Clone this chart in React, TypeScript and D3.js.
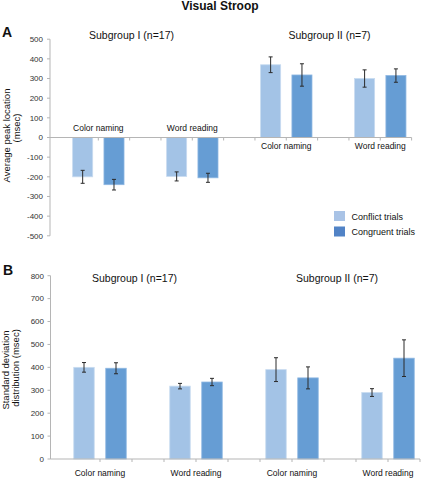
import React from "react";
import * as d3 from "d3";

const categories = ["Color naming", "Word reading", "Color naming", "Word reading"];
const groups = ["Subgroup I (n=17)", "Subgroup II (n=7)"];
const seriesNames = ["Conflict trials", "Congruent trials"];

const conflictA = [-200, -198, 370, 300];
const conflictAErr = [33, 23, 40, 44];
const congruentA = [-240, -205, 318, 315];
const congruentAErr = [27, 23, 57, 34];

const conflictB = [400, 318, 390, 290];
const conflictBErr = [21, 12, 52, 17];
const congruentB = [396, 336, 354, 440];
const congruentBErr = [24, 16, 48, 80];

const ticksA = [500, 400, 300, 200, 100, 0, -100, -200, -300, -400, -500];
const ticksB = [800, 700, 600, 500, 400, 300, 200, 100, 0];

const LIGHT = "#A3C3E6";
const DARK = "#669DD4";
const LEG_LIGHT = "#A9C3E6";
const LEG_DARK = "#5183C6";
const AXIS = "#B5B5B5";
const FONT = "'Liberation Sans', Arial, sans-serif";

type PanelProps = {
  conflict: number[];
  conflictErr: number[];
  congruent: number[];
  congruentErr: number[];
  yDomain: [number, number];
  yRange: [number, number];
  xRange: [number, number];
  axisX: number;
  ticks: number[];
  tickAnchor: number;
  tickFont: number;
};

function Panel(p: PanelProps) {
  const slots = d3.range(11);
  const x = d3.scaleBand<number>().domain(slots).range(p.xRange);
  const bw = x.bandwidth();
  const y = d3.scaleLinear().domain(p.yDomain).range(p.yRange);
  const y0 = y(0);
  const barW = bw * 0.64;
  const series = [
    { vals: p.conflict, errs: p.conflictErr, fill: LIGHT, stroke: "#C8DBF0" },
    { vals: p.congruent, errs: p.congruentErr, fill: DARK, stroke: "#8EB7E2" },
  ];
  const boundaries = d3.range(1, 12).map((k) => (x(0) as number) + k * bw);
  return (
    <g>
      {/* y axis */}
      <line x1={p.axisX} x2={p.axisX} y1={y(p.yDomain[1])} y2={y(p.yDomain[0])} stroke={AXIS} strokeWidth={1} />
      {p.ticks.map((t) => (
        <g key={t}>
          <line x1={p.axisX - 3} x2={p.axisX} y1={y(t)} y2={y(t)} stroke={AXIS} />
          <text x={p.tickAnchor} y={y(t) + p.tickFont * 0.35} textAnchor="end" fontSize={p.tickFont} fill="#333" fontFamily={FONT}>
            {t}
          </text>
        </g>
      ))}
      {/* bars */}
      {series.map((s, si) =>
        s.vals.map((v, i) => {
          const slot = 3 * i + si;
          const bx = (x(slot) as number) + (bw - barW) / 2;
          const top = Math.min(y(v), y0);
          const h = Math.abs(y(v) - y0);
          const cx = bx + barW / 2;
          const e = s.errs[i];
          return (
            <g key={`${si}-${i}`}>
              <rect x={bx} y={top} width={barW} height={h} fill={s.fill} stroke={s.stroke} strokeWidth={0.8} />
              <line x1={cx} x2={cx} y1={y(v + e)} y2={y(v - e)} stroke="#2a2a2a" strokeWidth={1} />
              <line x1={cx - 2} x2={cx + 2} y1={y(v + e)} y2={y(v + e)} stroke="#2a2a2a" strokeWidth={1} />
              <line x1={cx - 2} x2={cx + 2} y1={y(v - e)} y2={y(v - e)} stroke="#2a2a2a" strokeWidth={1} />
            </g>
          );
        })
      )}
      {/* zero / category axis */}
      <line x1={p.axisX} x2={p.xRange[1]} y1={y0} y2={y0} stroke={AXIS} strokeWidth={1} />
      {boundaries.map((b, k) => (
        <line key={k} x1={b} x2={b} y1={y0} y2={y0 + 3} stroke={AXIS} />
      ))}
    </g>
  );
}

export default function App() {
  const slots = d3.range(11);
  const xA = d3.scaleBand<number>().domain(slots).range([67, 411.6]);
  const xB = d3.scaleBand<number>().domain(slots).range([68, 420]);
  const pairCenter = (sc: d3.ScaleBand<number>, i: number) => (sc(3 * i) as number) + sc.bandwidth();
  return (
    <svg
      width={421}
      height={479}
      style={{ position: "absolute", left: 0, top: 0, background: "#fff" }}
      fontFamily={FONT}
    >
      <rect x={0} y={0} width={421} height={479} fill="#fff" />
      <text x={220} y={10} textAnchor="middle" fontSize={12} fontWeight="bold" fill="#111">
        Visual Stroop
      </text>

      {/* Panel A */}
      <text x={2} y={37} fontSize={14} fontWeight="bold" fill="#111">A</text>
      <text x={131.5} y={38.5} textAnchor="middle" fontSize={10.5} fill="#111">{groups[0]}</text>
      <text x={329.5} y={38.5} textAnchor="middle" fontSize={10.5} fill="#111">{groups[1]}</text>
      <text transform="translate(10,135.5) rotate(-90)" textAnchor="middle" fontSize={9.5} fill="#111">
        Average peak location
      </text>
      <text transform="translate(20,128) rotate(-90)" textAnchor="middle" fontSize={9.5} fill="#111">
        (msec)
      </text>
      <Panel
        conflict={conflictA}
        conflictErr={conflictAErr}
        congruent={congruentA}
        congruentErr={congruentAErr}
        yDomain={[-500, 500]}
        yRange={[235.8, 39.2]}
        xRange={[67, 411.6]}
        axisX={50}
        ticks={ticksA}
        tickAnchor={43}
        tickFont={8}
      />
      {categories.map((c, i) => (
        <text
          key={i}
          x={pairCenter(xA, i)}
          y={i < 2 ? 131 : 149}
          textAnchor="middle"
          fontSize={8.5}
          fill="#111"
        >
          {c}
        </text>
      ))}
      {/* legend */}
      <rect x={334} y={211} width={11} height={10} fill={LEG_LIGHT} />
      <rect x={334} y={226.5} width={11} height={10} fill={LEG_DARK} />
      <text x={351.5} y={220} fontSize={9} fill="#111">{seriesNames[0]}</text>
      <text x={351.5} y={235} fontSize={9} fill="#111">{seriesNames[1]}</text>

      {/* Panel B */}
      <text x={3} y={275} fontSize={14} fontWeight="bold" fill="#111">B</text>
      <text x={134.5} y={281.5} textAnchor="middle" fontSize={10.5} fill="#111">{groups[0]}</text>
      <text x={337} y={281.5} textAnchor="middle" fontSize={10.5} fill="#111">{groups[1]}</text>
      <text transform="translate(9,370) rotate(-90)" textAnchor="middle" fontSize={9.5} fill="#111">
        Standard deviation
      </text>
      <text transform="translate(19,368) rotate(-90)" textAnchor="middle" fontSize={9.5} fill="#111">
        distribution (msec)
      </text>
      <Panel
        conflict={conflictB}
        conflictErr={conflictBErr}
        congruent={congruentB}
        congruentErr={congruentBErr}
        yDomain={[0, 800]}
        yRange={[459, 275.7]}
        xRange={[68, 420]}
        axisX={50.5}
        ticks={ticksB}
        tickAnchor={44}
        tickFont={8}
      />
      {categories.map((c, i) => (
        <text key={i} x={pairCenter(xB, i)} y={476} textAnchor="middle" fontSize={8.5} fill="#111">
          {c}
        </text>
      ))}
    </svg>
  );
}
